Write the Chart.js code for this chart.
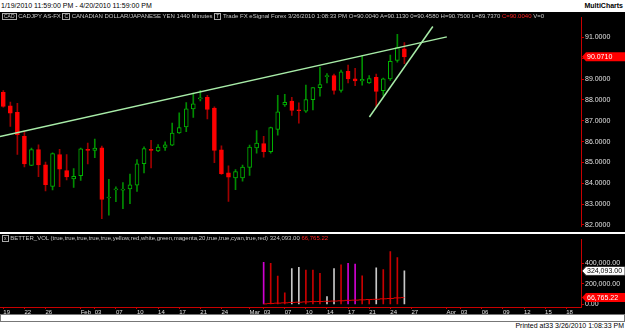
<!DOCTYPE html>
<html lang="en">
<head>
  <meta charset="UTF-8">
  <title>CADJPY daily</title>
  <script src="https://cdn.jsdelivr.net/npm/chart.js"></script>
  <style>
    html, body {
      margin: 0;
      padding: 0;
      width: 625px;
      height: 330px;
      overflow: hidden;
      background: #fff;
      font-family: "Liberation Sans", Arial, sans-serif;
    }
    #hdr { position: absolute; left: 1px; top: 0; height: 12px; line-height: 12px; font-size: 7px; color: #000; }
    #brand { position: absolute; right: 2px; top: 0; height: 12px; line-height: 12px; font-size: 7px; font-weight: bold; color: #000; }
    #main { position: absolute; left: 0; top: 12px; background: #000; }
    #vol { position: absolute; left: 0; top: 234px; background: #000; }
    .info { position: absolute; left: 2px; font-size: 6px; color: #c8c8c8; white-space: nowrap; }
    .info .ic { display: inline-block; border: 1px solid #aaa; padding: 0 1px; line-height: 5px; font-size: 5px; }
    .info .red { color: #ff2020; }
    #scroll { position: absolute; left: 0; top: 314px; width: 623px; height: 6px; border: 1px solid #777; background: #fff; }
    #printed { position: absolute; right: 1px; top: 322px; font-size: 7px; color: #000; }
  </style>
</head>
<body>
  <div id="hdr">1/19/2010 11:59:00 PM - 4/20/2010 11:59:00 PM</div>
  <div id="brand">MultiCharts</div>
  <canvas id="main" width="625" height="220"></canvas>
  <canvas id="vol" width="625" height="80"></canvas>
  <div class="info" style="top:13px"><span class="ic">CAD</span> CADJPY AS-FX <span class="ic">C</span> CANADIAN DOLLAR/JAPANESE YEN 1440 Minutes <span class="ic">T</span> Trade FX eSignal Forex 3/26/2010 1:08:33 PM O=90.0040 A=90.1130 0=90.4580 H=90.7500 L=89.7370 <span class="red">C=90.0040</span> V=0</div>
  <div class="info" style="top:235px"><span class="ic">x</span> BETTER_VOL (true,true,true,true,true,yellow,red,white,green,magenta,20,true,true,cyan,true,red) 324,093.00 <span class="red">66,765.22</span></div>
  <div id="scroll"></div>
  <div id="printed">Printed at33 3/26/2010 1:08:33 PM</div>
  <script>
    // daily bars, Jan 19 .. Mar 26 2010 (index 0..57), future slots up to index 82
    const open  = [88.36,87.72,87.40,86.25,84.85,85.61,84.88,83.84,85.38,84.61,84.21,84.36,85.63,85.57,85.70,83.29,83.68,83.66,83.72,83.91,84.94,85.63,85.55,85.72,85.83,86.42,86.70,87.57,88.05,88.12,87.61,85.60,84.50,84.25,84.25,84.76,85.70,85.90,85.52,86.59,87.76,87.95,87.52,87.46,88.01,88.59,89.12,89.17,88.46,89.38,89.01,88.91,88.82,89.09,88.44,89.01,89.90,90.458];
    const high  = [88.45,87.90,87.84,86.50,85.69,85.84,85.02,85.46,85.63,85.38,84.70,85.69,85.93,86.12,85.78,84.19,83.83,84.03,84.44,85.14,85.75,86.06,85.86,85.99,86.89,87.38,87.87,88.33,88.46,88.22,87.67,85.80,84.84,84.65,84.87,85.83,86.53,86.25,86.70,88.22,88.27,88.12,87.86,88.71,88.60,89.58,89.27,89.24,89.43,89.67,89.52,90.13,89.17,89.24,89.05,90.16,91.15,90.75];
    const low   = [87.65,86.73,85.38,84.78,84.84,84.32,83.63,83.68,83.83,84.16,83.80,84.13,84.93,85.23,82.30,82.46,83.11,82.78,83.02,83.60,84.50,84.74,85.51,85.58,85.80,86.39,86.47,87.16,87.95,87.09,84.99,84.42,83.13,83.69,84.10,84.38,85.44,85.25,85.44,86.31,87.69,87.26,86.89,87.40,87.52,88.18,88.82,88.28,88.37,88.82,88.69,88.71,88.79,87.67,88.22,88.94,89.81,89.737];
    const close = [87.69,87.37,86.33,84.93,85.61,84.88,83.93,85.42,84.67,84.30,84.33,85.65,85.58,85.69,83.22,83.32,83.71,83.72,83.92,84.93,85.66,85.58,85.74,85.84,86.41,86.67,87.57,87.81,88.07,87.55,85.58,84.46,84.29,84.56,84.78,85.74,85.93,85.52,86.67,87.43,87.89,87.50,87.48,88.02,88.59,88.74,89.14,88.46,89.35,89.01,88.91,88.99,89.03,88.41,89.01,89.86,90.51,90.071];

    // volume indicator (only from Mar 03 = index 37)
    const volStart = 37;
    const volume   = [406000,397000,274000,113000,346000,359000,332000,332000,300000,76000,346000,384000,397000,390000,276000,45000,353000,337000,510000,452000,324093];
    const volColor = ['m','r','r','r','w','w','r','r','r','w','w','r','m','m','r','r','w','r','r','r','w'];
    const volAvg   = [6000,10000,13000,16000,20000,22000,25000,28000,29000,31000,33000,36000,40000,42000,45000,48000,50000,55000,58000,64000,66765.22];

    // trend lines drawn on the chart: [index, price]
    const trendLong  = [[-0.47, 86.24], [63.03, 91.03]];
    const trendShort = [[52.03, 87.18], [61.04, 91.53]];

    // time axis ticks
    const tickIdx  = [0,3,6,11,13,16,19,22,25,28,31,35,37,40,43,46,49,52,55,58,63,65,68,71,74,77,80];
    const tickText = ['19','22','26','Feb','03','07','10','14','17','21','24','Mar','03','07','10','14','17','21','24','27','Apr','03','06','09','12','15','18'];
    const priceTicks = [82,83,84,85,86,87,88,89,90,91];
    const volTicks = [0,200000,400000];

    const RED = '#ff0000', RED_WICK = '#a00000', GREEN = '#00b400', GREEN_WICK = '#008c00';
    const AXIS = '#c80000', LABEL = '#e0e0e0';
    const FONT = { family: '"Liberation Sans", Arial, sans-serif', size: 7 };
    const X_MIN = -0.47, X_MAX = 82.1;

    const up = i => close[i] >= open[i];
    const bodies = open.map((o, i) => ({ x: i, y: [o, close[i]] }));
    const wicks  = open.map((o, i) => ({ x: i, y: [low[i], high[i]] }));

    function tag(ctx, x, y, w, bg, fg, text, edge) {
      ctx.save();
      ctx.beginPath();
      ctx.moveTo(x, y);
      ctx.lineTo(x + 4, y - 4.5);
      ctx.lineTo(x + w, y - 4.5);
      ctx.lineTo(x + w, y + 4.5);
      ctx.lineTo(x + 4, y + 4.5);
      ctx.closePath();
      ctx.fillStyle = bg;
      ctx.fill();
      if (edge) { ctx.strokeStyle = edge; ctx.lineWidth = 1; ctx.stroke(); }
      ctx.fillStyle = fg;
      ctx.font = '7px "Liberation Sans", Arial, sans-serif';
      ctx.textBaseline = 'middle';
      ctx.fillText(text, x + 5, y + 0.5);
      ctx.restore();
    }

    const priceTag = {
      id: 'priceTag',
      afterDraw(chart) {
        const y = chart.scales.y.getPixelForValue(close[close.length - 1]);
        tag(chart.ctx, chart.chartArea.right + 1, y, 43, '#ff0000', '#ffffff', close[close.length - 1].toFixed(4));
      }
    };

    const volTags = {
      id: 'volTags',
      afterDraw(chart) {
        const s = chart.scales.y, x = chart.chartArea.right + 1;
        const lastV = volume[volume.length - 1], lastA = volAvg[volAvg.length - 1];
        const fmt = v => v.toLocaleString('en-US', { minimumFractionDigits: 2, maximumFractionDigits: 2 });
        tag(chart.ctx, x, s.getPixelForValue(lastV), 43, '#ffffff', '#000000', fmt(lastV), '#333');
        tag(chart.ctx, x, s.getPixelForValue(lastA), 43, '#ff0000', '#ffffff', fmt(lastA));
      }
    };

    new Chart(document.getElementById('main'), {
      type: 'bar',
      data: {
        datasets: [
          { type: 'line', data: trendLong.map(p => ({ x: p[0], y: p[1] })), borderColor: '#a8eca8', borderWidth: 1.5, pointRadius: 0, order: 0 },
          { type: 'line', data: trendShort.map(p => ({ x: p[0], y: p[1] })), borderColor: '#a8eca8', borderWidth: 1.5, pointRadius: 0, order: 0 },
          {
            data: bodies, grouped: false, barThickness: 4, minBarLength: 1, borderWidth: 1, borderSkipped: false, order: 1,
            backgroundColor: c => up(c.dataIndex) ? '#000000' : RED,
            borderColor: c => up(c.dataIndex) ? GREEN : RED
          },
          {
            data: wicks, grouped: false, barThickness: 1, borderWidth: 0, order: 2,
            backgroundColor: c => up(c.dataIndex) ? GREEN_WICK : RED_WICK
          }
        ]
      },
      plugins: [priceTag],
      options: {
        responsive: false,
        animation: false,
        layout: { padding: 0 },
        plugins: { legend: { display: false }, tooltip: { enabled: false } },
        scales: {
          x: { type: 'linear', min: X_MIN, max: X_MAX, offset: false, display: false },
          y: {
            position: 'right', min: 81.906, max: 91.975,
            afterBuildTicks: s => { s.ticks = priceTicks.map(v => ({ value: v })); },
            afterFit: s => { s.width = 44; },
            ticks: { color: LABEL, font: FONT, padding: 1, callback: v => v.toFixed(4) },
            grid: { drawOnChartArea: false, color: AXIS, tickLength: 3 },
            border: { color: AXIS }
          }
        }
      }
    });

    const volData = volume.map((v, k) => ({ x: volStart + k, y: v }));
    const avgData = volAvg.map((v, k) => ({ x: volStart + k, y: v }));
    const VC = { m: '#d000d0', r: '#c80000', w: '#c8c8c8' };

    new Chart(document.getElementById('vol'), {
      type: 'bar',
      data: {
        datasets: [
          { type: 'line', data: avgData, borderColor: '#e00000', borderWidth: 1, pointRadius: 0, stepped: 'middle', order: 0 },
          { data: volData, barThickness: 1, borderWidth: 0, order: 1, backgroundColor: c => VC[volColor[c.dataIndex]] }
        ]
      },
      plugins: [volTags],
      options: {
        responsive: false,
        animation: false,
        layout: { padding: 0 },
        plugins: { legend: { display: false }, tooltip: { enabled: false } },
        scales: {
          x: {
            type: 'linear', min: X_MIN, max: X_MAX, offset: false, position: 'bottom',
            afterBuildTicks: s => { s.ticks = tickIdx.map(v => ({ value: v })); },
            afterFit: s => { s.height = 7; },
            ticks: { color: LABEL, font: { family: FONT.family, size: 6 }, padding: 0, align: 'start', autoSkip: false, maxRotation: 0, callback: (v, i) => tickText[i] },
            grid: { drawOnChartArea: false, offset: false, color: AXIS, tickLength: 2 },
            border: { color: AXIS }
          },
          y: {
            position: 'right', min: -24200, max: 630500,
            afterBuildTicks: s => { s.ticks = volTicks.map(v => ({ value: v })); },
            afterFit: s => { s.width = 44; },
            ticks: { color: LABEL, font: FONT, padding: 1, callback: v => v.toLocaleString('en-US', { minimumFractionDigits: 2 }) },
            grid: { drawOnChartArea: false, color: AXIS, tickLength: 3 },
            border: { color: AXIS }
          }
        }
      }
    });
  </script>
</body>
</html>
